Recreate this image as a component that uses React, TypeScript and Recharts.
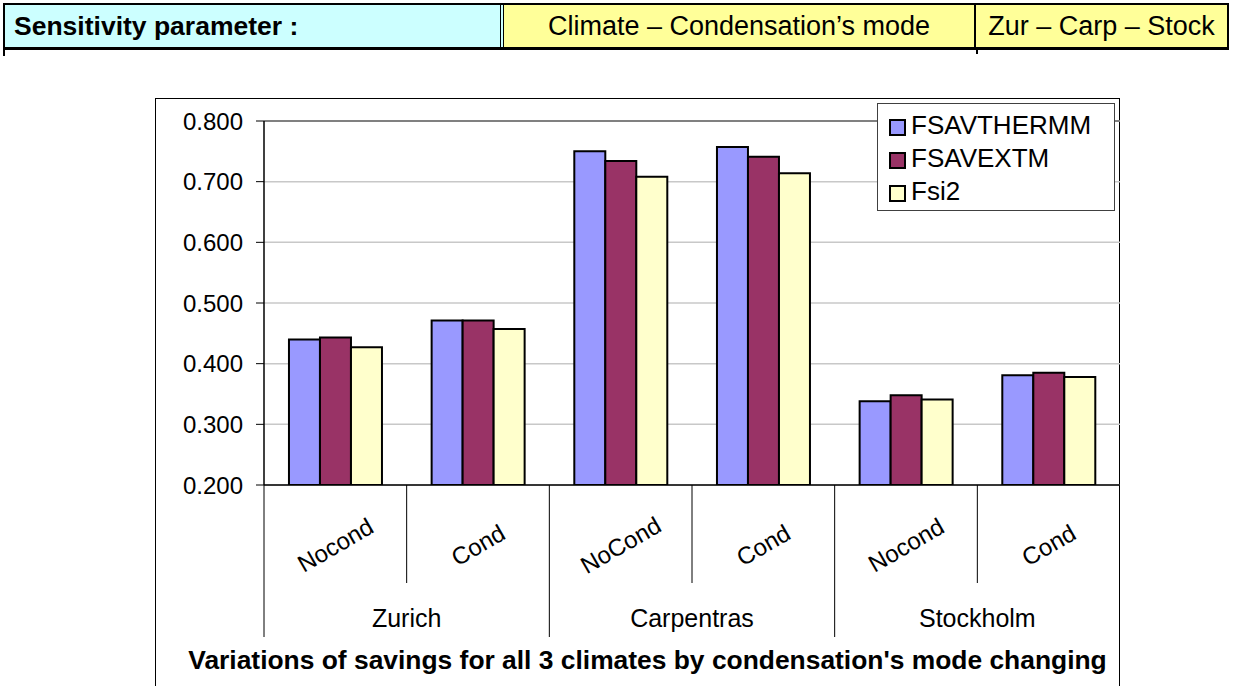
import React from 'react'
import { BarChart, Bar, XAxis, YAxis, CartesianGrid, ReferenceLine } from 'recharts'

// sub-categories (condensation mode) and their climates
const modes = ['Nocond', 'Cond', 'NoCond', 'Cond', 'Nocond', 'Cond']
const climates = ['Zurich', 'Carpentras', 'Stockholm']

const fsavthermm = [0.44, 0.471, 0.75, 0.757, 0.338, 0.381]
const fsavextm = [0.443, 0.471, 0.734, 0.741, 0.348, 0.385]
const fsi2 = [0.427, 0.457, 0.708, 0.714, 0.341, 0.378]

const yTicks = [0.2, 0.3, 0.4, 0.5, 0.6, 0.7, 0.8]

const SERIES = [
  { key: 'fsavthermm', name: 'FSAVTHERMM', color: '#9999ff' },
  { key: 'fsavextm', name: 'FSAVEXTM', color: '#993366' },
  { key: 'fsi2', name: 'Fsi2', color: '#ffffcc' },
]

const data = modes.map((mode, i) => ({
  mode: `${mode}-${i}`,
  label: mode,
  fsavthermm: fsavthermm[i],
  fsavextm: fsavextm[i],
  fsi2: fsi2[i],
}))

const FONT = '"Liberation Sans", Arial, sans-serif'

function ModeTick(props: any) {
  const { x, y, payload } = props
  const i = payload.index ?? props.index
  const half = payload.offset || 71.3
  const isGroupStart = i % 2 === 0
  const isLast = i === modes.length - 1
  return (
    <g>
      <line x1={x - half} x2={x - half} y1={y} y2={y + (isGroupStart ? 152 : 98)} stroke="#000" strokeWidth={1} />
      {isLast && <line x1={x + half} x2={x + half} y1={y} y2={y + 152} stroke="#000" strokeWidth={1} />}
      <text
        x={x}
        y={y + 60}
        textAnchor="middle"
        dominantBaseline="central"
        fontSize={24}
        fontFamily={FONT}
        fill="#000"
        transform={`rotate(-30, ${x}, ${y + 60})`}
      >
        {modes[i]}
      </text>
      {isGroupStart && (
        <text x={x + half} y={y + 133} textAnchor="middle" dominantBaseline="central" fontSize={25} fontFamily={FONT} fill="#000">
          {climates[i / 2]}
        </text>
      )}
    </g>
  )
}

export default function App() {
  return (
    <div style={{ position: 'absolute', left: 0, top: 0, width: 1234, height: 686, overflow: 'hidden', background: '#fff', fontFamily: FONT }}>
      {/* header table */}
      <div style={{ position: 'absolute', left: 3, top: 3, width: 1226, height: 47, display: 'flex', borderTop: '2px solid #000', borderBottom: '3px solid #000', borderLeft: '2px solid #000', borderRight: '2px solid #000', boxSizing: 'border-box' }}>
        <div style={{ width: 499, background: '#ccffff', borderRight: '4px double #000', fontWeight: 'bold', fontSize: 26.5, display: 'flex', alignItems: 'center', paddingLeft: 9, boxSizing: 'border-box' }}>
          Sensitivity parameter :
        </div>
        <div style={{ width: 472, background: '#ffff99', borderRight: '2px solid #000', fontSize: 27, display: 'flex', alignItems: 'center', justifyContent: 'center', boxSizing: 'border-box' }}>
          Climate – Condensation’s mode
        </div>
        <div style={{ flex: 1, background: '#ffff99', fontSize: 27, display: 'flex', alignItems: 'center', justifyContent: 'center' }}>
          Zur – Carp – Stock
        </div>
      </div>
      <div style={{ position: 'absolute', left: 3, top: 50, width: 2, height: 6, background: '#000' }} />
      <div style={{ position: 'absolute', left: 976, top: 50, width: 2, height: 4, background: '#000' }} />

      {/* chart frame */}
      <div style={{ position: 'absolute', left: 155, top: 98, width: 965, height: 600, border: '1.5px solid #000', boxSizing: 'border-box' }} />

      <div style={{ position: 'absolute', left: 155, top: 98 }}>
        <BarChart width={965} height={588} data={data} margin={{ top: 23, right: 0, left: 9, bottom: 0 }} barCategoryGap="17.5%" barGap={0}>
          <CartesianGrid vertical={false} stroke="#c8c8c8" strokeWidth={1.5} />
          <ReferenceLine y={0.8} stroke="#808080" strokeWidth={2} />
          <XAxis
            dataKey="mode"
            height={201}
            interval={0}
            tickLine={false}
            tickSize={0}
            tickMargin={0}
            axisLine={{ stroke: '#000', strokeWidth: 1.5 }}
            tick={<ModeTick />}
          />
          <YAxis
            width={100}
            domain={[0.2, 0.8]}
            ticks={yTicks}
            allowDataOverflow
            tickFormatter={(v: number) => v.toFixed(3)}
            tick={{ fontSize: 24, fill: '#000', fontFamily: FONT }}
            tickSize={8}
            tickMargin={13}
            tickLine={{ stroke: '#000', strokeWidth: 1 }}
            axisLine={{ stroke: '#000', strokeWidth: 1.5 }}
          />
          {SERIES.map((s) => (
            <Bar key={s.key} dataKey={s.key} name={s.name} fill={s.color} stroke="#000" strokeWidth={2} isAnimationActive={false} />
          ))}
        </BarChart>
      </div>

      {/* legend */}
      <div style={{ position: 'absolute', left: 877, top: 103, width: 238, height: 108, border: '1.5px solid #404040', background: '#fff', boxSizing: 'border-box', paddingTop: 5 }}>
        {SERIES.map((s) => (
          <div key={s.key} style={{ display: 'flex', alignItems: 'center', height: 33, paddingLeft: 11 }}>
            <div style={{ width: 17, height: 17, background: s.color, border: '2px solid #000', boxSizing: 'border-box', marginRight: 5, marginTop: 4 }} />
            <span style={{ fontSize: 26, lineHeight: '33px' }}>{s.name}</span>
          </div>
        ))}
      </div>

      {/* title */}
      <div style={{ position: 'absolute', left: 155, top: 643, width: 985, textAlign: 'center', fontWeight: 'bold', fontSize: 26.4, lineHeight: '34px' }}>
        Variations of savings for all 3 climates by condensation's mode changing
      </div>
    </div>
  )
}
